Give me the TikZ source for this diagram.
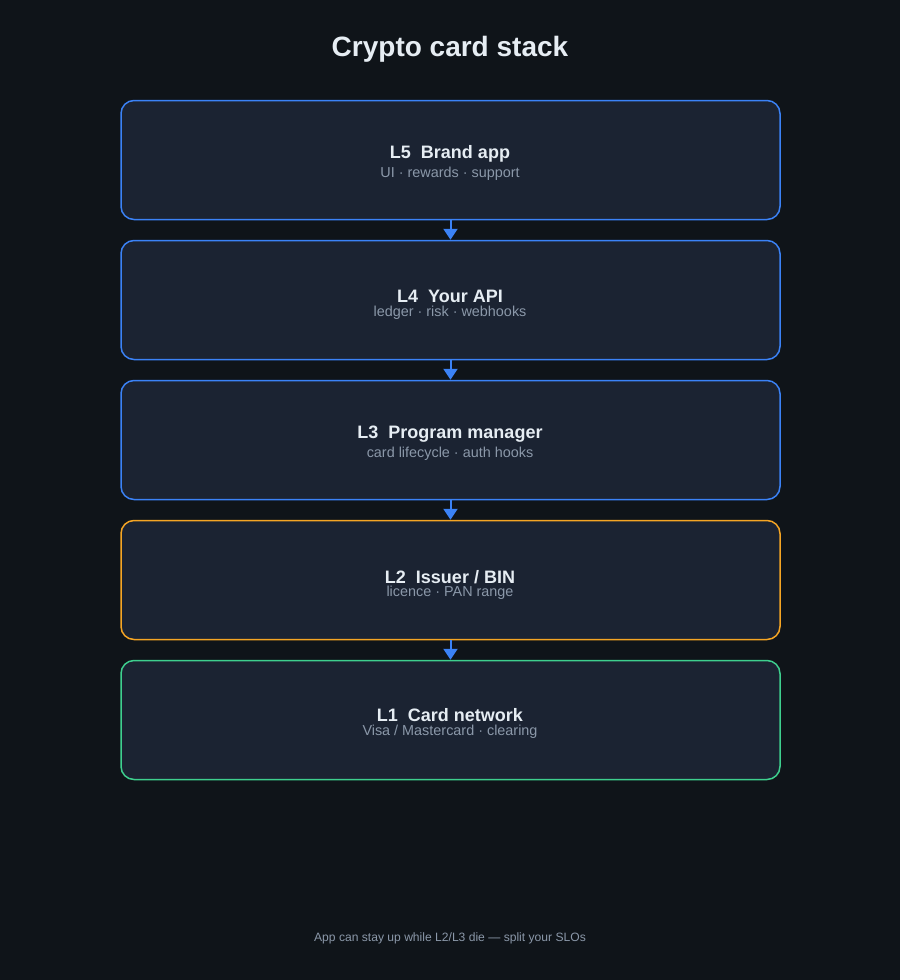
\documentclass[tikz,border=0pt]{standalone}
\usepackage{fontspec}
\setmainfont{Liberation Sans}
\usepackage{tikz}
\usetikzlibrary{arrows.meta}
\usepackage{xcolor}

\definecolor{bgcol}{HTML}{0F1419}
\definecolor{boxcol}{HTML}{1B2332}
\definecolor{bluecol}{HTML}{3B82F6}
\definecolor{orangecol}{HTML}{F5A524}
\definecolor{greencol}{HTML}{3ECF8E}
\definecolor{headcol}{HTML}{E6EDF3}
\definecolor{subcol}{HTML}{8B98A9}

\tikzset{
  layer/.style={draw=#1, fill=boxcol, line width=1.5pt, rounded corners=13pt,
    minimum width=659pt, minimum height=119pt, inner sep=0pt},
  head/.style={text=headcol, font=\fontsize{18}{21}\selectfont\bfseries, inner sep=0pt},
  sub/.style={text=subcol, font=\fontsize{14.4}{17}\selectfont, inner sep=0pt},
  arr/.style={draw=bluecol, line width=2pt, -{Triangle[length=11pt,width=14pt]}},
}

\begin{document}
\begin{tikzpicture}[x=1pt,y=-1pt]
\fill[bgcol] (0,0) rectangle (900,980);
\useasboundingbox (0,0) rectangle (900,980);
\node[text=headcol, font=\fontsize{28}{32}\selectfont\bfseries] (title) at (450,49) {Crypto card stack};
% the five layers, top to bottom
\node[layer=bluecol] (l5) at (450.5,160) {};
\node[layer=bluecol] (l4) at (450.5,300) {};
\node[layer=bluecol] (l3) at (450.5,440) {};
\node[layer=orangecol] (l2) at (450.5,580) {};
\node[layer=greencol] (l1) at (450.5,720) {};
\node[head] (l5h) at (450,154) {L5\ \ Brand app};
\node[sub] (l5s) at (450,174) {UI · rewards · support};
\node[head] (l4h) at (450,296) {L4\ \ Your API};
\node[sub] (l4s) at (450,313) {ledger · risk · webhooks};
\node[head] (l3h) at (450,434) {L3\ \ Program manager};
\node[sub] (l3s) at (450,454) {card lifecycle · auth hooks};
\node[head] (l2h) at (450,577) {L2\ \ Issuer / BIN};
\node[sub] (l2s) at (450,593) {licence · PAN range};
\node[head] (l1h) at (450,715) {L1\ \ Card network};
\node[sub] (l1s) at (450,732) {Visa / Mastercard · clearing};
% arrows between layers
\draw[arr] (l5.south) -- (l4.north);
\draw[arr] (l4.south) -- (l3.north);
\draw[arr] (l3.south) -- (l2.north);
\draw[arr] (l2.south) -- (l1.north);
\node[text=subcol, font=\fontsize{12.1}{14}\selectfont] (note) at (450,938) {App can stay up while L2/L3 die — split your SLOs};
\end{tikzpicture}
\end{document}
